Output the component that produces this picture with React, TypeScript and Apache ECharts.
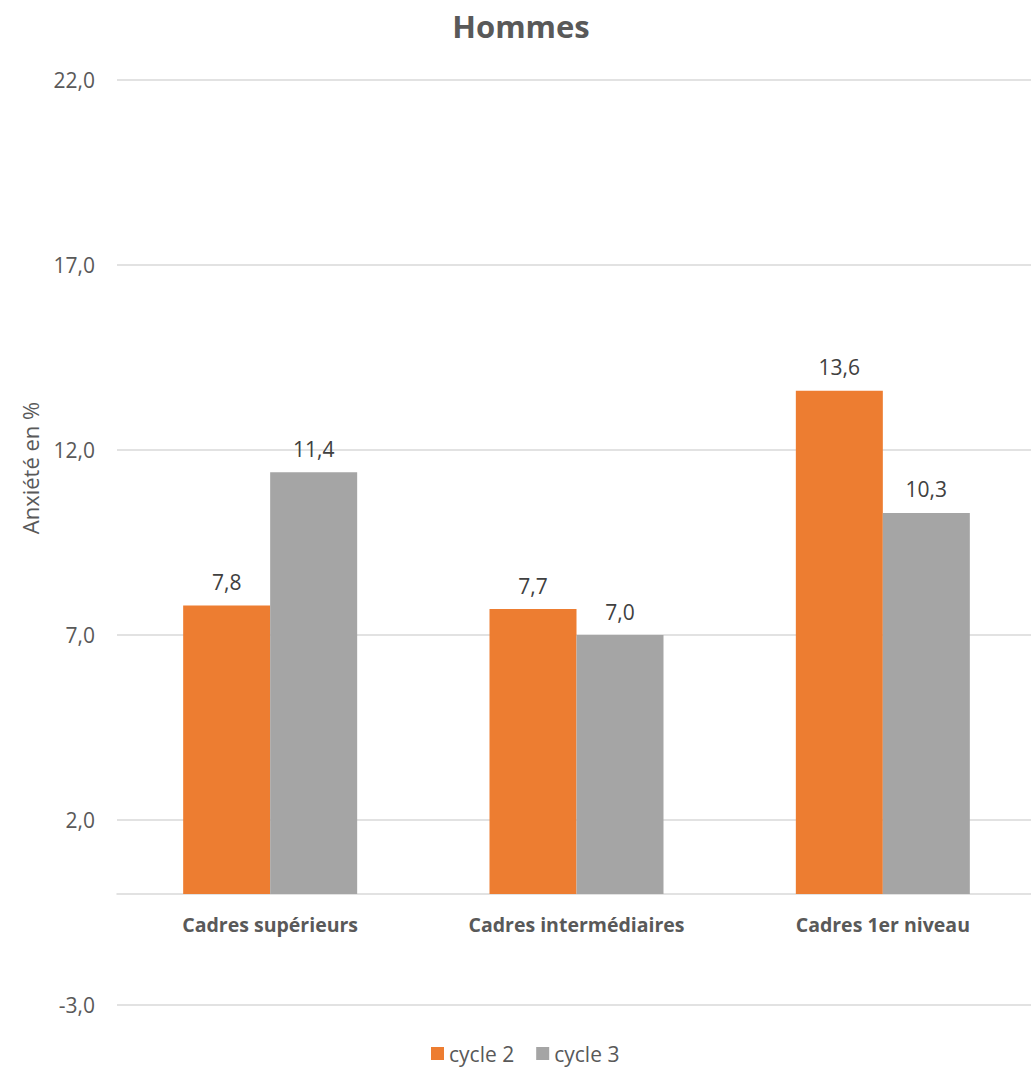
import React, { useEffect, useRef } from "react";
import * as echarts from "echarts";

const categories = ["Cadres supérieurs", "Cadres intermédiaires", "Cadres 1er niveau"];
const cycle2 = [7.8, 7.7, 13.6];
const cycle3 = [11.4, 7.0, 10.3];
const seriesNames = ["cycle 2", "cycle 3"];
const yMin = -3;
const yMax = 22;
const yInterval = 5;

const FONT = "'Open Sans', 'Liberation Sans', sans-serif";
const fmt = (v: number) => v.toFixed(1).replace(".", ",");

export default function App() {
  const ref = useRef<HTMLDivElement>(null);
  useEffect(() => {
    if (!ref.current) return;
    const chart = echarts.init(ref.current, null, { renderer: "svg" });
    const gridTop = 80;
    const gridBottom = 63;
    const plotH = 1068 - gridTop - gridBottom;
    const zeroOffset = -Math.round(((0 - yMin) / (yMax - yMin)) * plotH);
    const labelStyle = {
      show: true,
      position: "top" as const,
      distance: 13,
      color: "#404040",
      fontSize: 21,
      fontFamily: FONT,
      formatter: (p: any) => fmt(p.value),
    };
    chart.setOption({
      animation: false,
      textStyle: { fontFamily: FONT },
      title: {
        text: "Hommes",
        left: 516,
        textAlign: "center",
        top: 5,
        textStyle: { fontSize: 31, fontWeight: "bold", color: "#595959", fontFamily: FONT },
      },
      legend: {
        bottom: -1,
        left: 426,
        itemWidth: 13,
        itemHeight: 13,
        itemGap: 22,
        icon: "rect",
        textStyle: { fontSize: 21, color: "#595959", fontFamily: FONT },
        data: seriesNames,
      },
      grid: { left: 117, right: 4, top: gridTop, bottom: gridBottom, containLabel: false },
      graphic: [
        {
          type: "text",
          x: 30,
          y: 468,
          rotation: Math.PI / 2,
          style: {
            text: "Anxiété en %",
            fontSize: 22,
            fill: "#595959",
            fontFamily: FONT,
            align: "center",
            verticalAlign: "middle",
          },
        },
      ],
      xAxis: {
        type: "category",
        data: categories,
        offset: zeroOffset,
        axisLine: { onZero: false, lineStyle: { color: "#d9d9d9", width: 1.5 } },
        axisTick: { show: false },
        axisLabel: {
          margin: 20,
          fontSize: 19.5,
          fontWeight: "bold",
          color: "#595959",
          fontFamily: FONT,
        },
      },
      yAxis: {
        type: "value",
        min: yMin,
        max: yMax,
        interval: yInterval,
        axisLine: { show: false },
        axisTick: { show: false },
        splitLine: { lineStyle: { color: "#d9d9d9", width: 1.5 } },
        axisLabel: {
          margin: 22,
          fontSize: 21,
          color: "#595959",
          fontFamily: FONT,
          formatter: (v: number) => fmt(v),
        },
      },
      series: [
        {
          name: seriesNames[0],
          type: "bar",
          data: cycle2,
          barWidth: 87,
          barGap: "0%",
          itemStyle: { color: "#ED7D31" },
          label: labelStyle,
        },
        {
          name: seriesNames[1],
          type: "bar",
          data: cycle3,
          barWidth: 87,
          barGap: "0%",
          itemStyle: { color: "#A5A5A5" },
          label: labelStyle,
        },
      ],
    });
    return () => chart.dispose();
  }, []);
  return (
    <div
      style={{
        position: "absolute",
        left: 0,
        top: 0,
        width: 1031,
        height: 1068,
        overflow: "hidden",
        background: "#fff",
      }}
    >
      <div ref={ref} style={{ width: 1040, height: 1068 }} />
    </div>
  );
}
